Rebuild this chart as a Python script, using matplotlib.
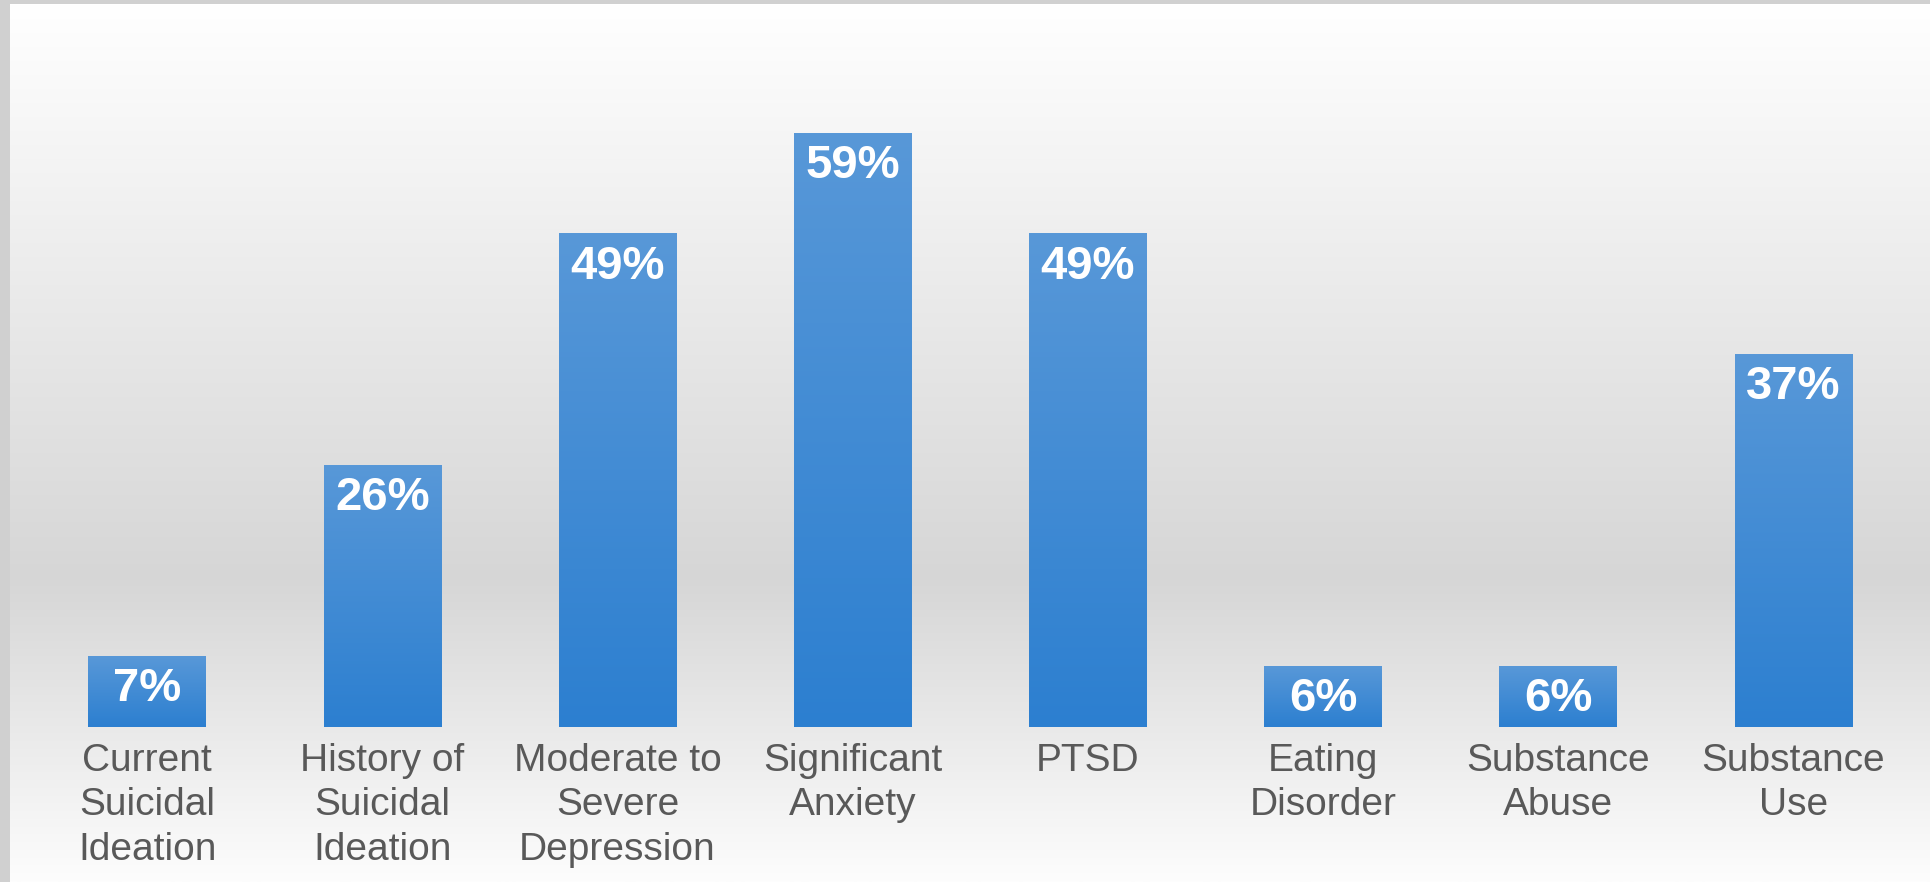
import numpy as np
from matplotlib import pyplot as plt
from matplotlib.colors import LinearSegmentedColormap

categories = ['Current\nSuicidal\nIdeation', 'History of\nSuicidal\nIdeation',
              'Moderate to\nSevere\nDepression', 'Significant\nAnxiety', 'PTSD',
              'Eating\nDisorder', 'Substance\nAbuse', 'Substance\nUse']
values = [7, 26, 49, 59, 49, 6, 6, 37]
value_labels = ['%d%%' % v for v in values]

W, H = 1931, 882
plt.rcParams['font.family'] = ['Liberation Sans', 'DejaVu Sans']

fig = plt.figure(figsize=(W / 100, H / 100), dpi=100)
fig.patch.set_facecolor('#d0d0d0')

# background panel with white -> gray -> white vertical gradient
bg = fig.add_axes([0, 0, 1, 1])
bg.set_xlim(0, W)
bg.set_ylim(0, H)
bg.axis('off')
yy = np.linspace(0, 1, 400)
top_frac = 575 / 878.
shade = np.where(yy < top_frac, 255 - (255 - 214) * yy / top_frac,
                 214 + (253 - 214) * (yy - top_frac) / (1 - top_frac)) / 255.
grad = np.dstack([shade, shade, shade])[0][:, None, :].repeat(2, axis=1)
bg.imshow(grad, extent=(10, W, 0, 878), origin='upper', aspect='auto', zorder=0)

# bars
ax = fig.add_axes([10 / W, 155.4 / H, 1902 / W, 722.6 / H])
ax.axis('off')
ax.patch.set_alpha(0)

x = np.arange(len(values))
bars = ax.bar(x, values, width=0.5, color='none', edgecolor='none')
bar_cmap = LinearSegmentedColormap.from_list('bar', ['#2c7fd0', '#5898d8'])
g = np.linspace(0, 1, 256)[:, None]
for b in bars:
  x0, y0, w, h = b.get_x(), b.get_y(), b.get_width(), b.get_height()
  im = ax.imshow(g, cmap=bar_cmap, origin='lower', aspect='auto',
                 extent=(x0, x0 + w, y0, y0 + h), zorder=2)
  im.set_clip_path(b)

ax.set_xlim(-0.5833, 7.504)
ax.set_ylim(0, 71.8)

for xi, v, lab in zip(x, values, value_labels):
  ax.text(xi, v - 1.1, lab, ha='center', va='top', color='white',
          fontsize=34, fontweight='bold', zorder=3)

for xi, cat in zip(x, categories):
  ax.text(xi, -1.6, cat, ha='center', va='top', color='#595959',
          fontsize=28, linespacing=1.3, zorder=3, clip_on=False)

fig.savefig('out.png', dpi=100, facecolor=fig.get_facecolor())
